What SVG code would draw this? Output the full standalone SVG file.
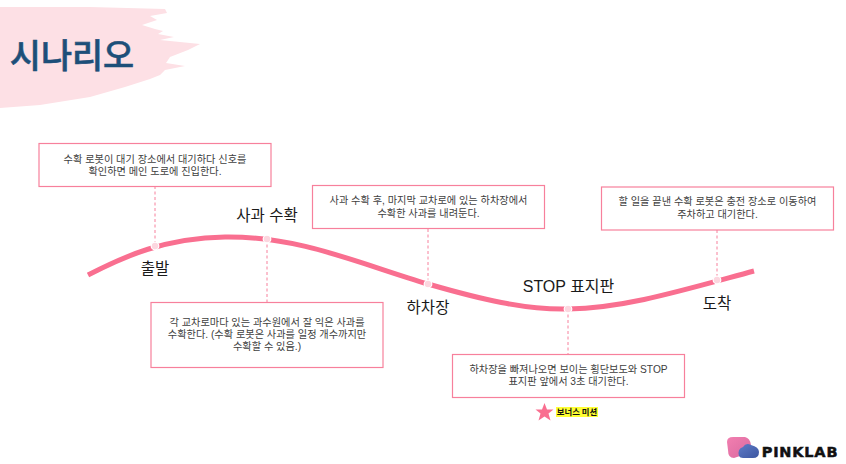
<svg xmlns="http://www.w3.org/2000/svg" width="846" height="464" viewBox="0 0 846 464">
<defs>
<style>
text{font-family:"Liberation Sans","Noto Sans CJK KR",sans-serif;text-anchor:middle}
.box{fill:#fff;stroke:#f7809c;stroke-width:1.2}
.desc{font-size:10.2px;fill:#404040}
.lab{font-size:15.500px;fill:#1a1a1a}
.lead{fill:none;stroke:#f7809c;stroke-width:1;stroke-dasharray:3 2.5}
.dot{fill:#fcd6df;stroke:#fff;stroke-width:1.2}
</style>
<linearGradient id="g1" x1="0" y1="0" x2="1" y2="1"><stop offset="0" stop-color="#f27fb0"/><stop offset="1" stop-color="#d9699f"/></linearGradient>
<linearGradient id="g2" x1="0" y1="0" x2="1" y2="1"><stop offset="0" stop-color="#5f7cc8"/><stop offset="1" stop-color="#3c56a0"/></linearGradient>
</defs>
<g id="banner">
<path d="M0 7 L90 7 L165 9 L167 13 L150 16 L157 20 L142 25 L155 29 L163 31 L158 34 L174 37 L160 40 L200 44 L188 50 L170 57 L166 63 L185 66 L165 70 L160 75 L150 79 L125 87 L90 97 L40 105 L0 108 Z" fill="#fde0e5"/>
<text x="72" y="68" style="font-family:'Noto Sans CJK KR',sans-serif;font-size:33.800px;font-weight:500" fill="#1d4f79" stroke="#1d4f79" stroke-width=".6">시나리오</text>
</g>
<g id="connectors">
<path d="M88 275 C125 256 165 238 225 237 C300 236 360 264 428 284 C480 299 525 310 568 309 C625 308 680 291 754 271" fill="none" stroke="#f96f90" stroke-width="5"/>
<path class="lead" d="M155 186V246"/>
<path class="lead" d="M267 239V302"/>
<path class="lead" d="M428 229V284"/>
<path class="lead" d="M568 309V354"/>
<path class="lead" d="M717 230V280"/>
</g>
<g id="node-start">
<rect class="box" x="39" y="143.500" width="232" height="43"/>
<text class="desc" x="155" y="162.500">수확 로봇이 대기 장소에서 대기하다 신호를</text>
<text class="desc" x="155" y="175">확인하면 메인 도로에 진입한다.</text>
<circle class="dot" cx="155" cy="246" r="3.800"/>
<text class="lab" x="155" y="274">출발</text>
</g>
<g id="node-harvest">
<rect class="box" x="151" y="302.500" width="232" height="65"/>
<text class="desc" x="267" y="326">각 교차로마다 있는 과수원에서 잘 익은 사과를</text>
<text class="desc" x="267" y="338">수확한다. (수확 로봇은 사과를 일정 개수까지만</text>
<text class="desc" x="267" y="350">수확할 수 있음.)</text>
<circle class="dot" cx="267" cy="239" r="3.800"/>
<text class="lab" x="267" y="221">사과 수확</text>
</g>
<g id="node-unload">
<rect class="box" x="312.500" y="185.500" width="232" height="43"/>
<text class="desc" x="428.500" y="204">사과 수확 후, 마지막 교차로에 있는 하차장에서</text>
<text class="desc" x="428.500" y="217">수확한 사과를 내려둔다.</text>
<circle class="dot" cx="428" cy="284" r="3.800"/>
<text class="lab" x="428" y="313">하차장</text>
</g>
<g id="node-stop">
<rect class="box" x="452.500" y="354.500" width="232" height="43"/>
<text class="desc" x="568.500" y="373">하차장을 빠져나오면 보이는 횡단보도와 STOP</text>
<text class="desc" x="568.500" y="385">표지판 앞에서 3초 대기한다.</text>
<circle class="dot" cx="568" cy="309" r="3.800"/>
<text class="lab" x="568.500" y="292" style="font-size:16px">STOP 표지판</text>
</g>
<g id="node-end">
<rect class="box" x="601.500" y="187" width="232" height="43"/>
<text class="desc" x="717.500" y="205">할 일을 끝낸 수확 로봇은 충전 장소로 이동하여</text>
<text class="desc" x="717.500" y="218">주차하고 대기한다.</text>
<circle class="dot" cx="717" cy="280" r="3.800"/>
<text class="lab" x="717" y="309">도착</text>
</g>
<g id="bonus">
<polygon points="544.500,403 547,409.500 553.500,409.500 548.500,413.500 550.500,420.500 544.500,416.500 538.500,420.500 540.500,413.500 535.500,409.500 542,409.500" fill="#f96f90"/>
<rect x="556" y="407" width="42" height="10" fill="#ffff33"/>
<text x="577" y="415" style="font-family:'Noto Sans CJK KR',sans-serif;font-size:8.400px;font-weight:700" fill="#111">보너스 미션</text>
</g>
<g id="logo">
<path d="M727 442 Q727 437 733 437 L745 437 Q750 438 751 445 L748 447 Q741 448 740 456 L734 458 Q728 458 728 450 Z" fill="url(#g1)"/>
<path d="M739 456 Q737 449 743 447 Q746 442 751 445 Q759 447 759 452 Q759 458 753 458 L743 458 Q740 458 739 456 Z" fill="url(#g2)"/>
<text x="800" y="457" style="font-family:'DejaVu Sans',sans-serif;font-size:14.500px;font-weight:700;letter-spacing:.8px" fill="#111" stroke="#111" stroke-width=".5">PINKLAB</text>
</g>
</svg>
